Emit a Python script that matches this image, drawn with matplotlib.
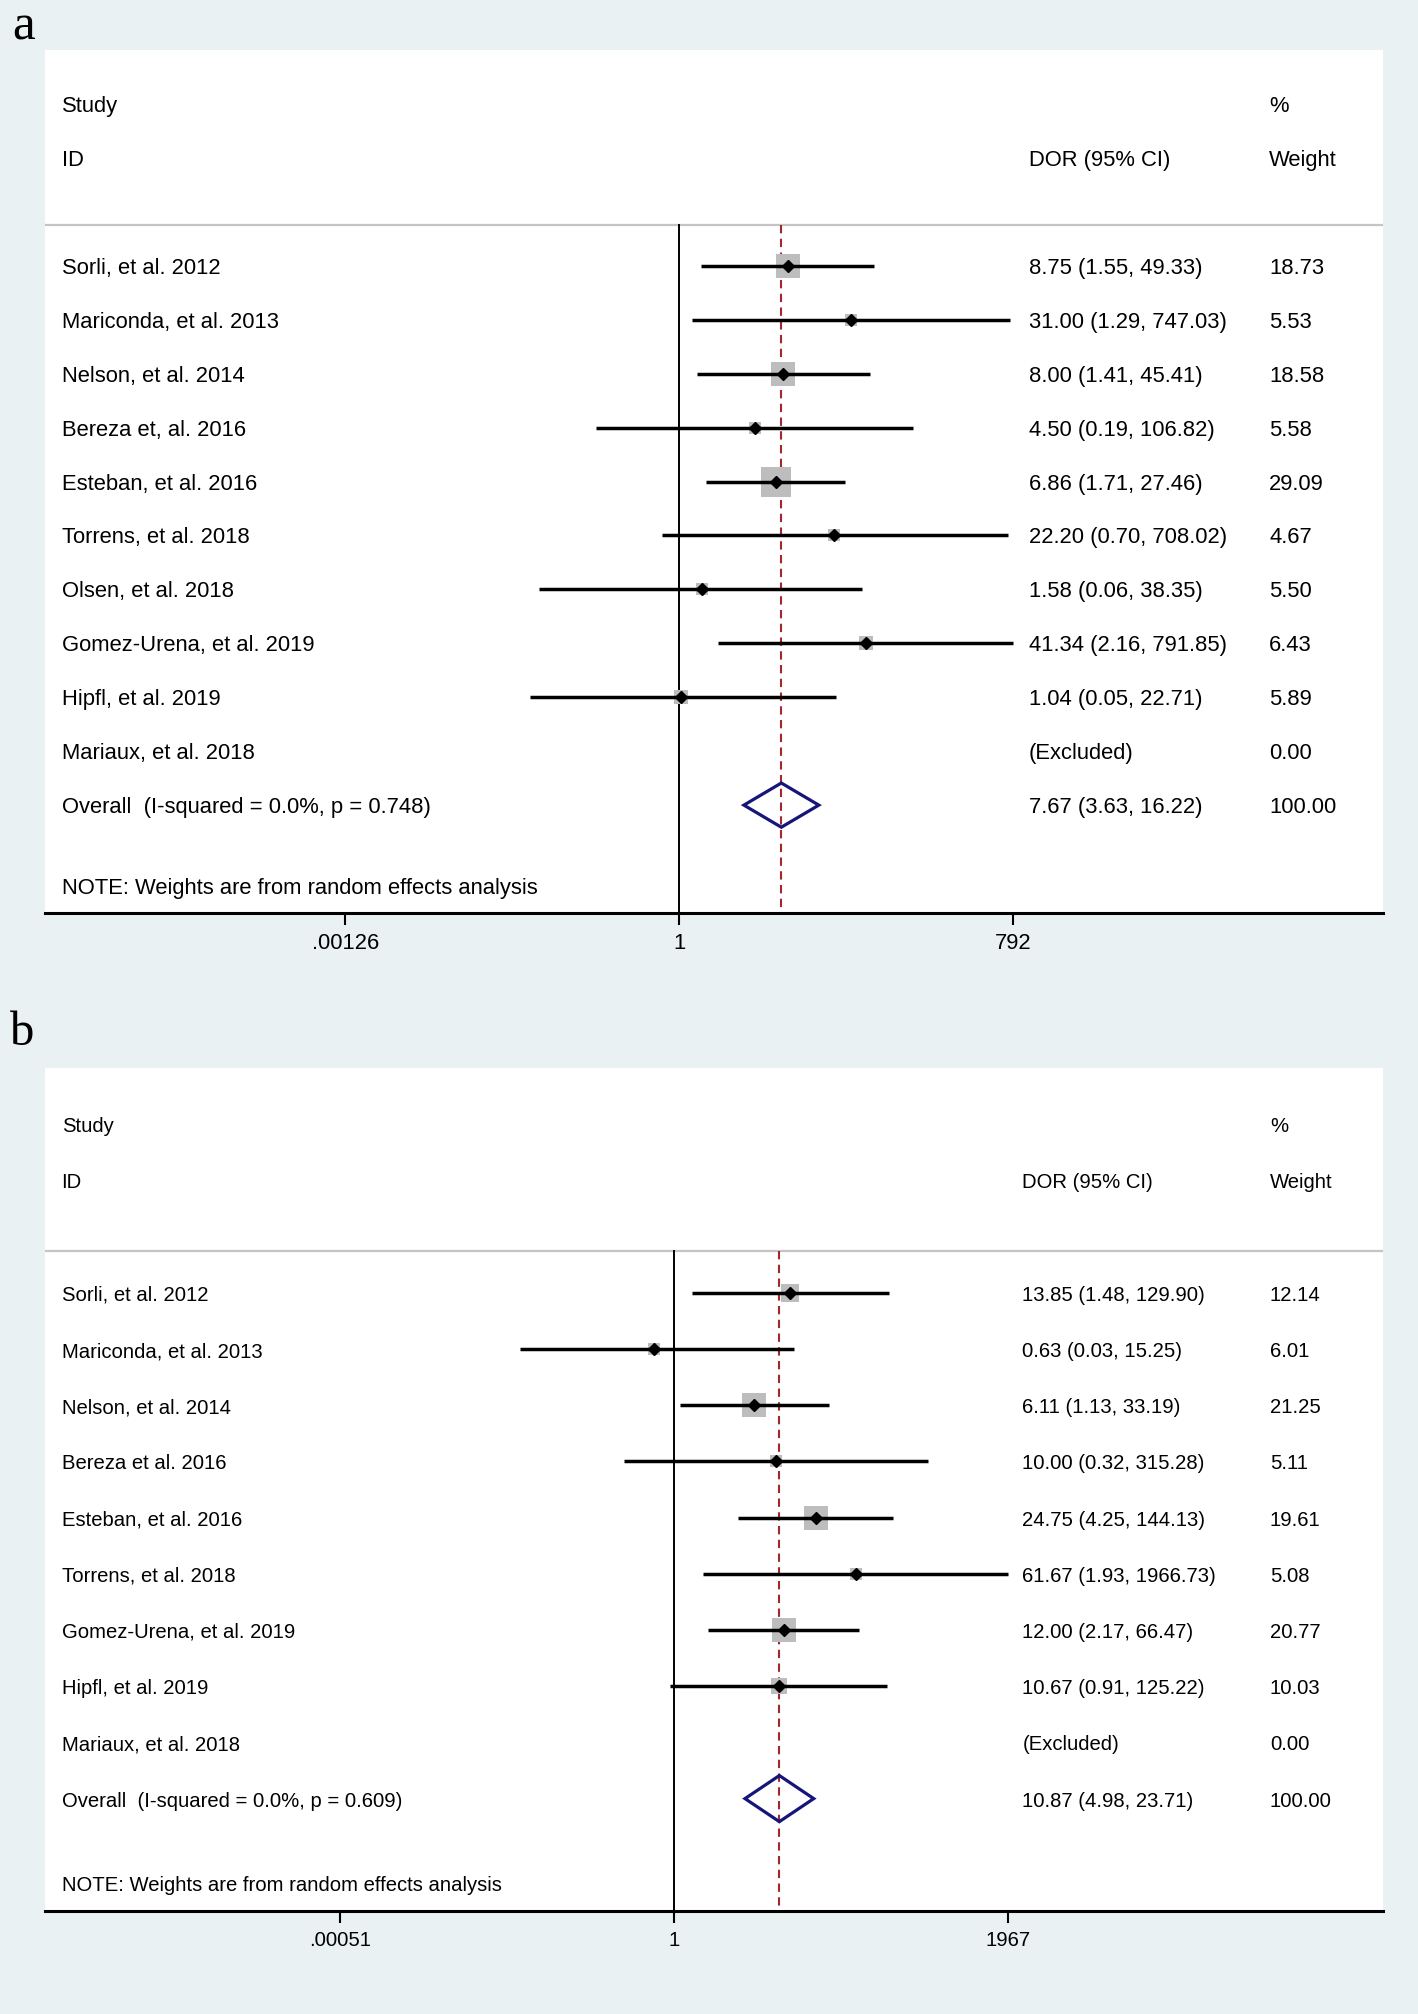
import numpy as np
import matplotlib
matplotlib.use("Agg")
import matplotlib.pyplot as plt
from matplotlib.patches import Polygon
from matplotlib.transforms import blended_transform_factory, offset_copy

plt.rcParams['font.family'] = ['Liberation Sans', 'DejaVu Sans']

# ---- panel a data ----
studies_a = ["Sorli, et al. 2012", "Mariconda, et al. 2013", "Nelson, et al. 2014",
             "Bereza et, al. 2016", "Esteban, et al. 2016", "Torrens, et al. 2018",
             "Olsen, et al. 2018", "Gomez-Urena, et al. 2019", "Hipfl, et al. 2019",
             "Mariaux, et al. 2018"]
dor_a = [8.75, 31.00, 8.00, 4.50, 6.86, 22.20, 1.58, 41.34, 1.04]
lo_a = [1.55, 1.29, 1.41, 0.19, 1.71, 0.70, 0.06, 2.16, 0.05]
hi_a = [49.33, 747.03, 45.41, 106.82, 27.46, 708.02, 38.35, 791.85, 22.71]
weight_a = [18.73, 5.53, 18.58, 5.58, 29.09, 4.67, 5.50, 6.43, 5.89, 0.00]
overall_a = (7.67, 3.63, 16.22)
het_a = "Overall  (I-squared = 0.0%, p = 0.748)"
ticks_a = [0.00126, 1, 792]
ticklabels_a = [".00126", "1", "792"]

# ---- panel b data ----
studies_b = ["Sorli, et al. 2012", "Mariconda, et al. 2013", "Nelson, et al. 2014",
             "Bereza et al. 2016", "Esteban, et al. 2016", "Torrens, et al. 2018",
             "Gomez-Urena, et al. 2019", "Hipfl, et al. 2019", "Mariaux, et al. 2018"]
dor_b = [13.85, 0.63, 6.11, 10.00, 24.75, 61.67, 12.00, 10.67]
lo_b = [1.48, 0.03, 1.13, 0.32, 4.25, 1.93, 2.17, 0.91]
hi_b = [129.90, 15.25, 33.19, 315.28, 144.13, 1966.73, 66.47, 125.22]
weight_b = [12.14, 6.01, 21.25, 5.11, 19.61, 5.08, 20.77, 10.03, 0.00]
overall_b = (10.87, 4.98, 23.71)
het_b = "Overall  (I-squared = 0.0%, p = 0.609)"
ticks_b = [0.00051, 1, 1967]
ticklabels_b = [".00051", "1", "1967"]

W, H, DPI = 1418, 2014, 100
BG = '#e9f1f2'
NAVY = '#15157a'
RED = '#a0282e'
BOXGRAY = '#bdbdbd'


def make_axes(fig, left, right, top, bottom):
    return fig.add_axes([left / W, 1 - bottom / H, (right - left) / W, (bottom - top) / H])


def draw_panel(fig, ax, studies, dor, lo, hi, weights, overall, het, ticks, ticklabels,
               x_one, px_dec, box_k, fs, col_dor, col_w, mk):
    n = len(studies) + 1          # rows incl. overall
    left_px, right_px = 45, 1383
    ax.set_xscale('log')
    ax.set_xlim(10 ** ((left_px - x_one) / px_dec), 10 ** ((right_px - x_one) / px_dec))
    ax.set_ylim(n + 1, -4)
    ax.set_facecolor('white')
    for s in ['top', 'left', 'right']:
        ax.spines[s].set_visible(False)
    ax.spines['bottom'].set_linewidth(2.2)
    ax.set_yticks([])
    ax.set_xticks(ticks)
    ax.set_xticklabels(ticklabels, fontsize=fs)
    ax.xaxis.set_minor_locator(matplotlib.ticker.NullLocator())
    ax.tick_params(axis='x', length=8.5, width=1.5, pad=6, direction='out')

    tr = offset_copy(blended_transform_factory(ax.transAxes, ax.transData),
                     fig=fig, y=-2.5, units='dots')

    def txt(x, y, s):
        ax.text(x, y, s, transform=tr, fontsize=fs, va='center')

    # header
    txt(0.0124, -3, "Study")
    txt(0.0124, -2, "ID")
    txt(col_dor, -2, "DOR (95% CI)")
    txt(col_w, -3, "%")
    txt(col_w, -2, "Weight")
    ax.axhline(-0.75, color='#c4c4c4', lw=1.6, zorder=1)

    # reference lines
    ax.plot([1, 1], [-0.75, n + 1], color='black', lw=1.4, zorder=1)
    ax.plot([overall[0], overall[0]], [-0.75, n + 1], color=RED, lw=1.5,
            linestyle=(0, (4, 2.6)), zorder=1.5)

    px_pt = DPI / 72.0
    for i, name in enumerate(studies):
        txt(0.0124, i, name)
        txt(col_w, i, f"{weights[i]:.2f}")
        if i < len(dor):
            ax.plot(dor[i], i, marker='s', markersize=box_k * np.sqrt(weights[i]) / px_pt,
                    color=BOXGRAY, markeredgewidth=0, zorder=2)
            ax.plot([lo[i], hi[i]], [i, i], color='black', lw=2.5, zorder=3,
                    solid_capstyle='butt')
            ax.plot(dor[i], i, marker='D', markersize=mk, color='black', zorder=4)
            txt(col_dor, i, f"{dor[i]:.2f} ({lo[i]:.2f}, {hi[i]:.2f})")
        else:
            txt(col_dor, i, "(Excluded)")

    # overall
    yo = n - 1
    est, olo, ohi = overall
    dia = Polygon([[olo, yo], [est, yo - 0.41], [ohi, yo], [est, yo + 0.41]],
                  closed=True, fill=False, edgecolor=NAVY, lw=2.3, zorder=5)
    ax.add_patch(dia)
    txt(0.0124, yo, het)
    txt(col_dor, yo, f"{est:.2f} ({olo:.2f}, {ohi:.2f})")
    txt(col_w, yo, "100.00")
    txt(0.0124, n + 0.5, "NOTE: Weights are from random effects analysis")


fig = plt.figure(figsize=(W / DPI, H / DPI), dpi=DPI, facecolor=BG)

ax_a = make_axes(fig, 45, 1383, 50, 913)
draw_panel(fig, ax_a, studies_a, dor_a, lo_a, hi_a, weight_a, overall_a, het_a,
           ticks_a, ticklabels_a, x_one=679.4, px_dec=115.2, box_k=5.5, fs=15.8,
           col_dor=0.7354, col_w=0.9148, mk=6.3)

ax_b = make_axes(fig, 45, 1383, 1068, 1911)
draw_panel(fig, ax_b, studies_b, dor_b, lo_b, hi_b, weight_b, overall_b, het_b,
           ticks_b, ticklabels_b, x_one=674.3, px_dec=101.4, box_k=5.2, fs=14.6,
           col_dor=0.7305, col_w=0.9155, mk=5.8)

fig.text(12 / W, 1 - 40 / H, "a", fontsize=37, family=['Liberation Serif', 'DejaVu Serif'],
         va='baseline', ha='left')
fig.text(10 / W, 1 - 1045 / H, "b", fontsize=35, family=['Liberation Serif', 'DejaVu Serif'],
         va='baseline', ha='left')

fig.savefig('out.png', dpi=DPI, facecolor=fig.get_facecolor())
